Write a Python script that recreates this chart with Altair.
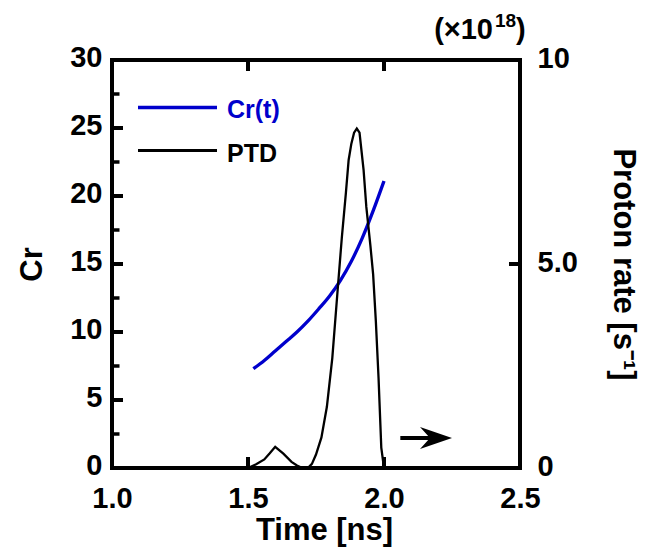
import altair as alt
import pandas as pd

# ---- data ----
cr_time = [1.52, 1.56, 1.60, 1.64, 1.68, 1.72, 1.76, 1.80, 1.84, 1.88, 1.92, 1.96, 2.00]
cr_value = [7.3, 7.9, 8.6, 9.3, 10.0, 10.8, 11.7, 12.65, 13.8, 15.2, 16.9, 18.9, 21.1]

ptd_time = [1.50, 1.53, 1.56, 1.58, 1.60, 1.63, 1.66, 1.68, 1.70, 1.72, 1.735, 1.75,
            1.77, 1.79, 1.81, 1.83, 1.845, 1.86, 1.87, 1.88, 1.89, 1.90, 1.91, 1.925,
            1.935, 1.95, 1.96, 1.97, 1.98, 1.99, 2.00]
ptd_rate = [0.00, 0.09, 0.21, 0.36, 0.52, 0.35, 0.15, 0.06, 0.00, 0.00, 0.10, 0.33,
            0.75, 1.50, 2.70, 4.40, 5.65, 6.75, 7.55, 7.95, 8.22, 8.32, 8.22, 7.30,
            6.40, 5.45, 4.75, 3.60, 2.20, 0.50, 0.00]

time_ticks = [1.0, 1.5, 2.0, 2.5]
inner_time_ticks = [1.5, 2.0]
cr_major_ticks = [0, 5, 10, 15, 20, 25, 30]
cr_minor_ticks = [2.5, 7.5, 12.5, 17.5, 22.5, 27.5]
rate_ticks = [0, 5, 10]

legend_labels = ["Cr(t)", "PTD"]
multiplier_parts = ["(\u00d710", "18", ")"]

arrow_start = 2.06
arrow_end = 2.25
arrow_level = 2.2

# ---- styling ----
FONT = "Liberation Sans"
BLUE = "#0000CC"
W = 408
H = 408

cr_df = pd.DataFrame({"t": cr_time, "cr": cr_value})
ptd_df = pd.DataFrame({"t": ptd_time, "rate": ptd_rate})

x_scale = alt.Scale(domain=[1.0, 2.5], nice=False, zero=False)
cr_scale = alt.Scale(domain=[0, 30], nice=False)
rate_scale = alt.Scale(domain=[0, 10], nice=False)

common = dict(ticks=False, tickSize=0, domain=False, grid=False,
              labelFontSize=29, labelFontWeight="bold", labelColor="black",
              labelOverlap=False, labelFlush=False,
              titleFontSize=31, titleFontWeight="bold", titleColor="black")

x_axis = alt.Axis(values=time_ticks, format=".1f", title="Time [ns]",
                  labelPadding=16, titleX=212, titleY=71,
                  titleAlign="center", titleBaseline="alphabetic", **common)
cr_axis = alt.Axis(values=cr_major_ticks, format="d", title="Cr", orient="left",
                   labelPadding=10, labelOffset=-3, labelBaseline="middle",
                   titleAngle=270, titleX=-80, titleY=204,
                   titleAlign="center", titleBaseline="middle", **common)
rate_axis = alt.Axis(values=rate_ticks, orient="right",
                     labelExpr="datum.value == 5 ? '5.0' : format(datum.value, 'd')",
                     title="Proton rate [s\u207b\u00b9]",
                     labelPadding=17, labelOffset=-2, labelBaseline="middle",
                     titleAngle=90, titleX=102, titleY=204,
                     titleAlign="center", titleBaseline="middle", **common)

# every encoding of a shared scale carries the same axis, so they merge into one
X = lambda f: alt.X(f, scale=x_scale, axis=x_axis)
YC = lambda f: alt.Y(f, scale=cr_scale, axis=cr_axis)
YR = lambda f: alt.Y(f, scale=rate_scale, axis=rate_axis)

cr_line = alt.Chart(cr_df).mark_line(color=BLUE, strokeWidth=3.3, interpolate="monotone").encode(
    x=X("t:Q"), y=YC("cr:Q"))

left_major = alt.Chart(pd.DataFrame({"v": cr_major_ticks})).mark_rule(
    color="black", strokeWidth=4).encode(x=alt.value(0), x2=alt.value(11), y=YC("v:Q"))
left_minor = alt.Chart(pd.DataFrame({"v": cr_minor_ticks})).mark_rule(
    color="black", strokeWidth=3.5).encode(x=alt.value(0), x2=alt.value(7.5), y=YC("v:Q"))

tt_df = pd.DataFrame({"t": inner_time_ticks})
bottom_ticks = alt.Chart(tt_df).mark_rule(color="black", strokeWidth=4).encode(
    x=X("t:Q"), y=alt.value(H), y2=alt.value(H - 11))
top_ticks = alt.Chart(tt_df).mark_rule(color="black", strokeWidth=4).encode(
    x=X("t:Q"), y=alt.value(0), y2=alt.value(11))

# legend
leg_cr = alt.Chart(pd.DataFrame({"label": [legend_labels[0]]}))
leg_ptd = alt.Chart(pd.DataFrame({"label": [legend_labels[1]]}))
text_style = dict(align="left", baseline="middle", font=FONT, fontSize=25, fontWeight="bold")
cr_leg_line = leg_cr.mark_rule(color=BLUE, strokeWidth=3.5).encode(
    x=alt.value(26), x2=alt.value(105), y=alt.value(47.5))
cr_leg_text = leg_cr.mark_text(color=BLUE, **text_style).encode(
    x=alt.value(115), y=alt.value(49.5), text="label:N")
ptd_leg_line = leg_ptd.mark_rule(color="black", strokeWidth=3.2).encode(
    x=alt.value(26), x2=alt.value(105), y=alt.value(90.5))
ptd_leg_text = leg_ptd.mark_text(color="black", **text_style).encode(
    x=alt.value(115), y=alt.value(93.5), text="label:N")

# multiplier annotation (x10^18)
mult_df = pd.DataFrame({"a": [multiplier_parts[0]], "b": [multiplier_parts[1]], "c": [multiplier_parts[2]]})
mult_a = alt.Chart(mult_df).mark_text(align="right", baseline="alphabetic", font=FONT,
                                      fontSize=29, fontWeight="bold", color="black").encode(
    x=alt.value(381), y=alt.value(-21), text="a:N")
mult_b = alt.Chart(mult_df).mark_text(align="left", baseline="alphabetic", font=FONT,
                                      fontSize=19, fontWeight="bold", color="black").encode(
    x=alt.value(383), y=alt.value(-33), text="b:N")
mult_c = alt.Chart(mult_df).mark_text(align="left", baseline="alphabetic", font=FONT,
                                      fontSize=29, fontWeight="bold", color="black").encode(
    x=alt.value(404), y=alt.value(-21), text="c:N")

# arrow pointing to the right axis
arrow_df = pd.DataFrame({"x0": [arrow_start], "x1": [arrow_end - 0.06],
                         "tip": [arrow_end], "y": [arrow_level]})
arrow_shaft = alt.Chart(arrow_df).mark_rule(color="black", strokeWidth=4, strokeCap="butt").encode(
    x=X("x0:Q"), x2="x1:Q", y=YC("y:Q"))
arrow_head = alt.Chart(arrow_df).mark_point(
    shape="M0,0 L-2,-0.69 L-1.375,0 L-2,0.69 Z", filled=True, size=1024,
    color="black", opacity=1, strokeWidth=0).encode(x=X("tip:Q"), y=YC("y:Q"))

left = alt.layer(cr_line, left_major, left_minor, bottom_ticks, top_ticks,
                 cr_leg_line, cr_leg_text, ptd_leg_line, ptd_leg_text,
                 mult_a, mult_b, mult_c, arrow_shaft, arrow_head)

ptd_line = alt.Chart(ptd_df).mark_line(color="black", strokeWidth=2.3).encode(
    x=X("t:Q"), y=YR("rate:Q"))
right_ticks = alt.Chart(pd.DataFrame({"v": rate_ticks})).mark_rule(
    color="black", strokeWidth=4).encode(x=alt.value(W), x2=alt.value(W - 11), y=YR("v:Q"))

right = alt.layer(ptd_line, right_ticks)

chart = (
    alt.layer(left, right)
    .resolve_scale(y="independent")
    .properties(width=W, height=H,
                autosize=alt.AutoSizeParams(type="none"),
                padding={"left": 104, "top": 52, "right": 122, "bottom": 79})
    .configure_view(stroke="black", strokeWidth=4)
    .configure_axis(labelFont=FONT, titleFont=FONT)
    .configure_text(font=FONT)
)

chart.save("out.html", embed_options={"renderer": "svg", "actions": False})
